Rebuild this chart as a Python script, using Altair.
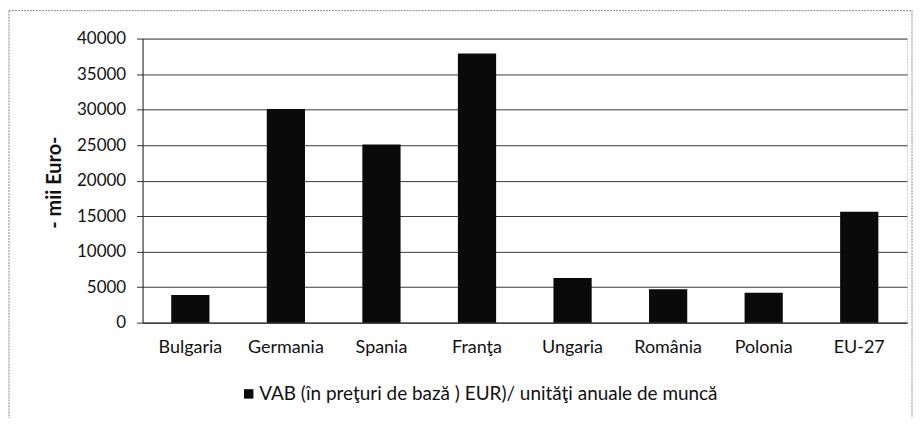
import altair as alt
import pandas as pd

countries = ["Bulgaria", "Germania", "Spania", "Franţa", "Ungaria", "România", "Polonia", "EU-27"]
values = [3900, 30100, 25100, 37900, 6300, 4700, 4200, 15600]
series_name = "VAB (în preţuri de bază ) EUR)/ unităţi anuale de muncă"
y_ticks = [0, 5000, 10000, 15000, 20000, 25000, 30000, 35000, 40000]

df = pd.DataFrame({"country": countries, "value": values, "series": [series_name] * len(countries)})

FONT = "Lato"

bars = alt.Chart(df).mark_bar(color="#0a0a0a").encode(
    x=alt.X(
        "country:N",
        sort=countries,
        title=None,
        scale=alt.Scale(paddingInner=0.6, paddingOuter=0.3),
        axis=alt.Axis(
            labelAngle=0, ticks=False, labelPadding=16, labelFontSize=18,
            labelColor="#111", domainColor="#222", domainWidth=1, grid=False,
            labelFont=FONT,
        ),
    ),
    y=alt.Y(
        "value:Q",
        scale=alt.Scale(domain=[0, 40000], nice=False),
        axis=alt.Axis(
            values=y_ticks, format="d", title="- mii Euro-",
            titleFont=FONT, titleFontSize=20, titleFontWeight="bold", titleColor="#111",
            titleAngle=270, titleX=-88, titleY=144, titleAlign="center", titleBaseline="middle",
            labelFont=FONT, labelFontSize=17, labelColor="#111", labelPadding=11,
            tickSize=6, tickColor="#333", domainColor="#222", domainWidth=1,
            grid=True, gridColor="#3a3a3a", gridWidth=1,
        ),
    ),
    color=alt.Color(
        "series:N",
        scale=alt.Scale(range=["#0a0a0a"]),
        legend=alt.Legend(
            title=None, orient="none", legendX=97, legendY=347,
            symbolType="square", symbolSize=90, symbolStrokeWidth=0, labelOffset=1,
            labelFont=FONT, labelFontSize=19, labelColor="#111", labelLimit=700,
        ),
    ),
)

frame = alt.Chart(pd.DataFrame({"k": [0]})).mark_rect(
    fill="white", fillOpacity=0, stroke="#888", strokeWidth=1, strokeDash=[2, 1]
).encode(
    x=alt.value(-134), x2=alt.value(772), y=alt.value(-28), y2=alt.value(420)
)

chart = alt.layer(frame, bars).properties(
    width=767,
    height=285,
    autosize=alt.AutoSizeParams(type="none"),
    padding={"left": 135, "top": 30, "right": 8, "bottom": 95},
).configure_view(stroke=None).configure(background="white")

chart.save("out.html", embed_options={"renderer": "svg", "actions": False})
